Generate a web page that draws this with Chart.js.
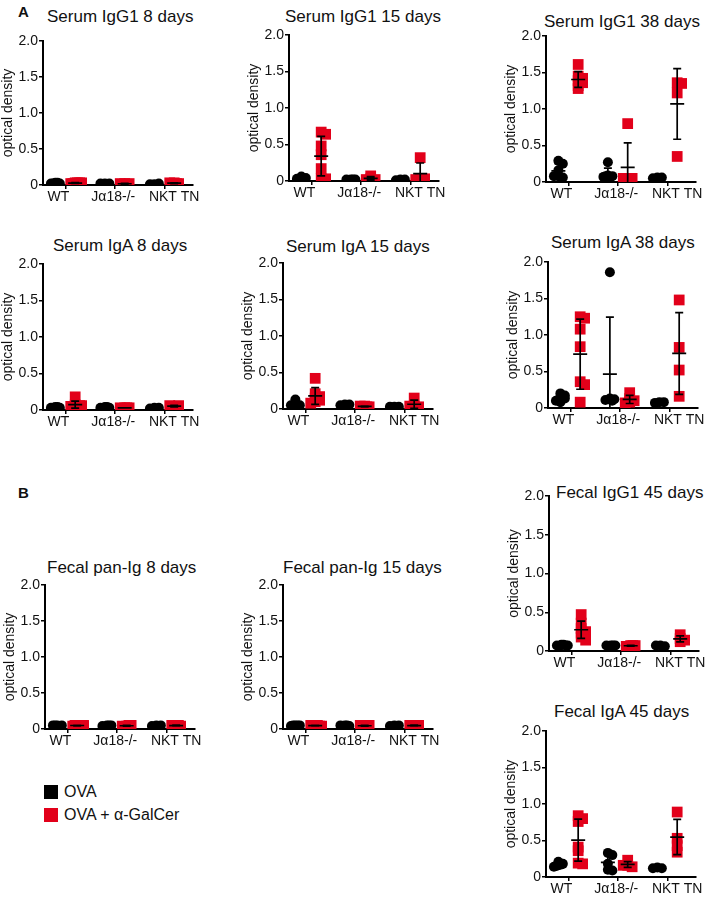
<!DOCTYPE html>
<html>
<head>
<meta charset="utf-8">
<script src="https://cdn.jsdelivr.net/npm/chart.js@4.4.1/dist/chart.umd.min.js"></script>
<style>
  body { margin: 0; background: #fff; width: 709px; height: 902px; position: relative; overflow: hidden;
         font-family: "Liberation Sans", Arial, sans-serif; color: #111; }
  canvas { position: absolute; }
  .ttl { position: absolute; font-size: 17px; line-height: 20px; white-space: nowrap; }
  .letter { position: absolute; font-weight: bold; font-size: 15px; line-height: 16px; }
  .leg { position: absolute; left: 44px; font-size: 16px; line-height: 18px; display: flex; align-items: center; white-space: nowrap; }
  .sw { width: 14px; height: 14px; margin-right: 6px; }
</style>
</head>
<body>
<div class="letter" style="left:18px;top:4px">A</div>
<div class="letter" style="left:18px;top:485px">B</div>
<div class="leg" style="top:783px"><div class="sw" style="background:#000"></div>OVA</div>
<div class="leg" style="top:806px"><div class="sw" style="background:#e2001a"></div>OVA + α-GalCer</div>

<script>
// ── data ─────────────────────────────────────────────────────────────
const CATEGORIES = ['WT', 'Jα18-/-', 'NKT TN'];
const Y_TICKS    = [0, 0.5, 1.0, 1.5, 2.0];

// each array: [WT, Jα18-/-, NKT TN] optical density values
const serumIgG1_8d_OVA  = [[0.03, 0.02, 0.02, 0.03, 0.02], [0.02, 0.02, 0.02, 0.01], [0.01, 0.02, 0.01]];
const serumIgG1_8d_GAL  = [[0.03, 0.03, 0.02, 0.03, 0.02, 0.03], [0.02, 0.02, 0.02, 0.01], [0.03, 0.02, 0.03, 0.02]];

const serumIgG1_15d_OVA = [[0.06, 0.04, 0.03, 0.02, 0.02], [0.02, 0.02, 0.02, 0.02], [0.02, 0.02, 0.01]];
const serumIgG1_15d_GAL = [[0.67, 0.64, 0.48, 0.36, 0.17, 0.03, 0.03], [0.07, 0.03, 0.02, 0.02], [0.32, 0.03, 0.03, 0.02]];

const serumIgG1_38d_OVA = [[0.29, 0.25, 0.16, 0.08, 0.06, 0.08], [0.27, 0.09, 0.08, 0.07, 0.07, 0.08], [0.06, 0.06, 0.05]];
const serumIgG1_38d_GAL = [[1.61, 1.45, 1.42, 1.39, 1.36, 1.32, 1.28], [0.80, 0.05, 0.05, 0.05, 0.05], [1.36, 1.35, 1.22, 0.35]];

const serumIgA_8d_OVA   = [[0.04, 0.03, 0.03, 0.04, 0.03], [0.04, 0.03, 0.03, 0.04], [0.03, 0.03, 0.02]];
const serumIgA_8d_GAL   = [[0.18, 0.07, 0.06, 0.05, 0.05, 0.04, 0.06], [0.03, 0.03, 0.03, 0.03], [0.05, 0.06, 0.06, 0.04]];

const serumIgA_15d_OVA  = [[0.13, 0.08, 0.05, 0.04, 0.05], [0.06, 0.06, 0.05, 0.05], [0.03, 0.03, 0.03]];
const serumIgA_15d_GAL  = [[0.42, 0.21, 0.17, 0.15, 0.12, 0.10, 0.08], [0.04, 0.03, 0.04, 0.03], [0.15, 0.04, 0.03, 0.04]];

const serumIgA_38d_OVA  = [[0.20, 0.17, 0.15, 0.13, 0.08, 0.10], [1.86, 0.13, 0.12, 0.11, 0.10], [0.08, 0.08, 0.07]];
const serumIgA_38d_GAL  = [[1.25, 1.23, 1.08, 0.84, 0.36, 0.32, 0.08], [0.21, 0.13, 0.10, 0.08, 0.07], [1.48, 0.83, 0.52, 0.16]];

const fecalPan_8d_OVA   = [[0.05, 0.05, 0.05, 0.04, 0.05], [0.05, 0.05, 0.04, 0.05], [0.05, 0.05, 0.04]];
const fecalPan_8d_GAL   = [[0.05, 0.05, 0.04, 0.05, 0.05, 0.05], [0.04, 0.05, 0.04, 0.05], [0.05, 0.04, 0.05, 0.05]];

const fecalPan_15d_OVA  = [[0.05, 0.05, 0.04, 0.05, 0.05], [0.05, 0.04, 0.05, 0.05], [0.05, 0.05, 0.04]];
const fecalPan_15d_GAL  = [[0.05, 0.04, 0.05, 0.05, 0.05, 0.04], [0.04, 0.05, 0.05, 0.04], [0.05, 0.05, 0.05, 0.04]];

const fecalIgG1_45d_OVA = [[0.08, 0.07, 0.07, 0.08, 0.06, 0.07], [0.07, 0.07, 0.07, 0.07, 0.06], [0.07, 0.06, 0.07]];
const fecalIgG1_45d_GAL = [[0.47, 0.36, 0.29, 0.25, 0.23, 0.18, 0.14], [0.07, 0.07, 0.06, 0.07], [0.21, 0.16, 0.12, 0.14]];

const fecalIgA_45d_OVA  = [[0.21, 0.18, 0.16, 0.14, 0.17, 0.15], [0.33, 0.30, 0.18, 0.10, 0.09], [0.13, 0.12, 0.12]];
const fecalIgA_45d_GAL  = [[0.84, 0.80, 0.76, 0.41, 0.36, 0.19, 0.18], [0.23, 0.16, 0.14, 0.16], [0.89, 0.53, 0.43, 0.34]];

// ── layout: axis origin x, top of plot, plot height, title position ──
const PANELS = [
  { title: 'Serum IgG1 8 days',    ova: serumIgG1_8d_OVA,  gal: serumIgG1_8d_GAL,  x: 43,  top: 41,  h: 144, tx: 47,  ty: 17 },
  { title: 'Serum IgG1 15 days',   ova: serumIgG1_15d_OVA, gal: serumIgG1_15d_GAL, x: 289, top: 35,  h: 146, tx: 285, ty: 17 },
  { title: 'Serum IgG1 38 days',   ova: serumIgG1_38d_OVA, gal: serumIgG1_38d_GAL, x: 546, top: 36,  h: 146, tx: 544, ty: 22 },
  { title: 'Serum IgA 8 days',     ova: serumIgA_8d_OVA,   gal: serumIgA_8d_GAL,   x: 43,  top: 264, h: 146, tx: 53,  ty: 246 },
  { title: 'Serum IgA 15 days',    ova: serumIgA_15d_OVA,  gal: serumIgA_15d_GAL,  x: 283, top: 263, h: 146, tx: 286, ty: 247 },
  { title: 'Serum IgA 38 days',    ova: serumIgA_38d_OVA,  gal: serumIgA_38d_GAL,  x: 548, top: 262, h: 146, tx: 551, ty: 243 },
  { title: 'Fecal pan-Ig 8 days',  ova: fecalPan_8d_OVA,   gal: fecalPan_8d_GAL,   x: 45,  top: 585, h: 144, tx: 47,  ty: 568 },
  { title: 'Fecal pan-Ig 15 days', ova: fecalPan_15d_OVA,  gal: fecalPan_15d_GAL,  x: 283, top: 585, h: 144, tx: 283, ty: 568 },
  { title: 'Fecal IgG1 45 days',   ova: fecalIgG1_45d_OVA, gal: fecalIgG1_45d_GAL, x: 549, top: 496, h: 155, tx: 556, ty: 493 },
  { title: 'Fecal IgA 45 days',    ova: fecalIgA_45d_OVA,  gal: fecalIgA_45d_GAL,  x: 546, top: 731, h: 146, tx: 554, ty: 712 }
];

const BLACK  = '#000000';
const RED    = '#e2001a';
const TEXT   = '#111111';
const FAMILY = '"Liberation Sans", Arial, sans-serif';

const LEFT_W = 43;   // y-axis block width
const PLOT_W = 150;
const PAD_T  = 10;
const PAD_R  = 12;
const TICK_H = 4;    // tick-mark axis
const LABEL_H = 19;  // label axis
const SUB    = 0.2;  // OVA left / α-GalCer right of group tick
const LABEL_SHIFT = [-0.14, -0.03, 0.2]; // category labels sit slightly off their ticks

Chart.defaults.font.family = FAMILY;

function meanSd(a) {
  const m = a.reduce((s, v) => s + v, 0) / a.length;
  const sd = a.length > 1 ? Math.sqrt(a.reduce((s, v) => s + (v - m) ** 2, 0) / (a.length - 1)) : 0;
  return { m, sd };
}

// small horizontal nudge so coincident markers don't fully hide each other
function spread(values, center) {
  const OFFS = [0, 0.09, -0.09, 0.045, -0.045, 0.13, -0.13];
  const placed = [];
  return values.map(v => {
    let off = 0;
    for (const o of OFFS) {
      if (!placed.some(p => Math.abs(p.y - v) < 0.04 && Math.abs(p.o - o) < 0.03)) { off = o; break; }
    }
    placed.push({ y: v, o: off });
    return { x: center + off, y: v };
  });
}

// mean ± SD drawn on top of the markers
const errorBars = {
  id: 'errorBars',
  afterDatasetsDraw(chart, args, opts) {
    const { ctx, scales: { x, y } } = chart;
    ctx.save();
    ctx.strokeStyle = BLACK;
    ctx.lineWidth = 1.7;
    opts.groups.forEach(g => {
      const { m, sd } = meanSd(g.values);
      const px  = x.getPixelForValue(g.x);
      const yM  = y.getPixelForValue(m);
      const yHi = y.getPixelForValue(m + sd);
      const lo  = m - sd;
      const yLo = y.getPixelForValue(Math.max(lo, 0));
      ctx.beginPath();
      ctx.moveTo(px - 7, yM);  ctx.lineTo(px + 7, yM);
      ctx.moveTo(px, yHi);     ctx.lineTo(px, yLo);
      ctx.moveTo(px - 4, yHi); ctx.lineTo(px + 4, yHi);
      if (lo > 0) { ctx.moveTo(px - 4, yLo); ctx.lineTo(px + 4, yLo); }
      ctx.stroke();
    });
    ctx.restore();
  }
};

const GRID = { drawOnChartArea: false, drawTicks: true, tickLength: 4, color: BLACK, lineWidth: 1.5 };
const CLIP = { left: false, top: false, right: false, bottom: 0 };

function drawPanel(p) {
  const t = document.createElement('div');
  t.className = 'ttl';
  t.style.left = p.tx + 'px';
  t.style.top  = (p.ty - 10) + 'px';
  t.textContent = p.title;
  document.body.appendChild(t);

  const canvas = document.createElement('canvas');
  const w = LEFT_W + PLOT_W + PAD_R;
  const h = PAD_T + p.h + TICK_H + LABEL_H;
  canvas.width = w; canvas.height = h;
  canvas.style.width = w + 'px'; canvas.style.height = h + 'px';
  canvas.style.left = (p.x - LEFT_W) + 'px';
  canvas.style.top  = (p.top - PAD_T) + 'px';
  document.body.appendChild(canvas);

  const ovaPts = [], galPts = [], groups = [];
  CATEGORIES.forEach((c, i) => {
    ovaPts.push(...spread(p.ova[i], i - SUB));
    galPts.push(...spread(p.gal[i], i + SUB));
    groups.push({ x: i - SUB, values: p.ova[i] });
    groups.push({ x: i + SUB, values: p.gal[i] });
  });

  new Chart(canvas, {
    type: 'scatter',
    data: {
      datasets: [
        { label: 'OVA', data: ovaPts, pointStyle: 'circle', pointRadius: 5,
          backgroundColor: BLACK, borderWidth: 0, clip: CLIP },
        { label: 'OVA + α-GalCer', data: galPts, pointStyle: 'rect', pointRadius: 7.6,
          backgroundColor: RED, borderWidth: 0, clip: CLIP }
      ]
    },
    options: {
      responsive: false,
      animation: false,
      events: [],
      layout: { padding: { top: PAD_T, right: PAD_R, bottom: 0, left: 0 } },
      plugins: {
        legend:  { display: false },
        tooltip: { enabled: false },
        errorBars: { groups }
      },
      scales: {
        x: {
          type: 'linear', position: 'bottom', min: -0.45, max: 2.58,
          afterBuildTicks: s => { s.ticks = CATEGORIES.map((c, i) => ({ value: i })); },
          afterFit: s => { s.height = TICK_H; },
          border: { display: true, color: BLACK, width: 2 },
          grid: GRID,
          ticks: { display: false }
        },
        xLabels: {
          type: 'linear', position: 'bottom', min: -0.45, max: 2.58,
          afterBuildTicks: s => { s.ticks = CATEGORIES.map((c, i) => ({ value: i + LABEL_SHIFT[i] })); },
          afterFit: s => { s.height = LABEL_H; },
          border: { display: false },
          grid: { display: false, drawTicks: false, tickLength: 0 },
          ticks: { callback: (v, i) => CATEGORIES[i], color: TEXT, font: { size: 14 },
                   padding: 0, maxRotation: 0, autoSkip: false }
        },
        y: {
          type: 'linear', min: 0, max: 2,
          afterBuildTicks: s => { s.ticks = Y_TICKS.map(v => ({ value: v })); },
          afterFit: s => { s.width = LEFT_W; },
          border: { display: true, color: BLACK, width: 2 },
          grid: GRID,
          ticks: { callback: v => v === 0 ? '0' : v.toFixed(1), color: TEXT, font: { size: 14 }, padding: 1 },
          title: { display: true, text: 'optical density', color: TEXT, font: { size: 14 }, padding: 0 }
        }
      }
    },
    plugins: [errorBars]
  });
}

PANELS.forEach(drawPanel);
</script>
</body>
</html>
